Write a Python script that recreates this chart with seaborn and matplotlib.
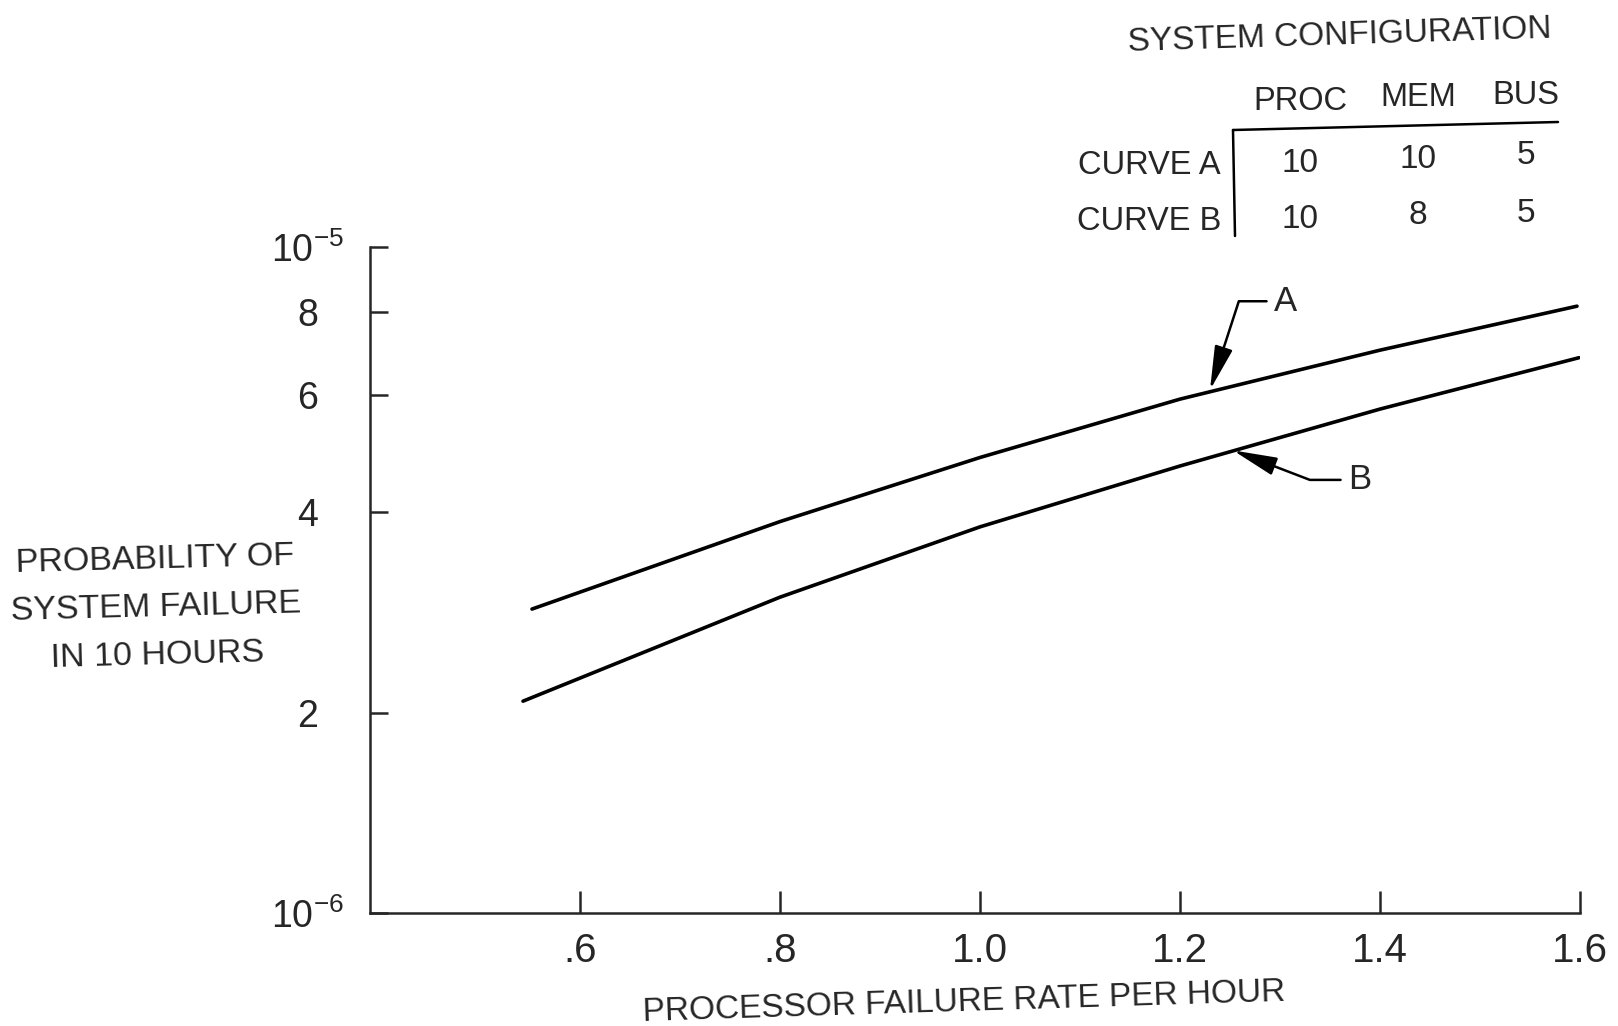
import numpy as np
import pandas as pd
import matplotlib
matplotlib.use("Agg")
import matplotlib.pyplot as plt
from matplotlib.lines import Line2D
import seaborn as sns

# values (log scale y)
rate_a = [0.552, 0.80, 1.00, 1.20, 1.40, 1.597]
prob_a = [2.86e-6, 3.87e-6, 4.83e-6, 5.91e-6, 7.00e-6, 8.15e-6]
rate_b = [0.543, 0.80, 1.00, 1.20, 1.40, 1.599]
prob_b = [2.08e-6, 2.98e-6, 3.80e-6, 4.69e-6, 5.71e-6, 6.82e-6]

xticks = [0.6, 0.8, 1.0, 1.2, 1.4, 1.6]
xtick_labels = [".6", ".8", "1.0", "1.2", "1.4", "1.6"]
yticks = [1e-6, 2e-6, 4e-6, 6e-6, 8e-6, 1e-5]
ytick_labels = [r"$\mathregular{10^{-6}}$", "2", "4", "6", "8", r"$\mathregular{10^{-5}}$"]

cfg_cols = ["PROC", "MEM", "BUS"]
cfg_rows = ["CURVE A", "CURVE B"]
cfg_a = [10, 10, 5]
cfg_b = [10, 8, 5]

sns.set_style("ticks")
plt.rcParams["font.family"] = ["Liberation Sans", "DejaVu Sans"]
NUM_FONT = ["Liberation Sans Narrow", "Liberation Sans", "DejaVu Sans"]

df = pd.DataFrame({
    "rate": rate_a + rate_b,
    "prob": prob_a + prob_b,
    "curve": ["A"] * len(rate_a) + ["B"] * len(rate_b),
})

W, H = 1618, 1026
fig = plt.figure(figsize=(W / 100, H / 100), dpi=100)


def fx(px):
    return px / W


def fy(py):
    return 1 - py / H


ax = fig.add_axes([fx(370), fy(913), fx(1580) - fx(370), fy(247) - fy(913)])
sns.lineplot(data=df, x="rate", y="prob", hue="curve", palette=["black", "black"],
             legend=False, lw=2.6, ax=ax)
ax.set_yscale("log")
ax.set_xlim(0.39, 1.6)
ax.set_ylim(1e-6, 1e-5)
ax.minorticks_off()
ax.set_xticks(xticks)
ax.set_xticklabels(xtick_labels, family=NUM_FONT, fontsize=29)
ax.set_yticks(yticks)
ax.set_yticklabels(ytick_labels, family=NUM_FONT, fontsize=27, ha="center")
ax.minorticks_off()
ax.tick_params(axis="x", direction="in", length=16, width=1.8, pad=14)
ax.tick_params(axis="y", direction="in", length=13, width=1.8, pad=45)
ax.set_xlabel("")
ax.set_ylabel("")
sns.despine(ax=ax)
for s in ["left", "bottom"]:
    ax.spines[s].set_linewidth(1.8)

arrow_kw = dict(color="black", lw=1.8, shrinkA=3, shrinkB=0, mutation_scale=20)
ax.annotate("A", xy=(1.23, 6.1e-6), xytext=(1.294, 8.29e-6), ha="left", va="center",
            fontsize=25,
            arrowprops=dict(arrowstyle="-|>,head_length=1.35,head_width=0.28",
                            connectionstyle="angle,angleA=180,angleB=72,rad=0", **arrow_kw))
ax.annotate("B", xy=(1.253, 4.95e-6), xytext=(1.368, 4.47e-6), ha="left", va="center",
            fontsize=25,
            arrowprops=dict(arrowstyle="-|>,head_length=1.35,head_width=0.28",
                            connectionstyle="angle,angleA=180,angleB=-21,rad=0", **arrow_kw))

# axis titles
fig.text(fx(964), fy(1002), "PROCESSOR FAILURE RATE PER HOUR", ha="center", va="center",
         fontsize=24, rotation=1.8, rotation_mode="anchor")
fig.text(fx(156), fy(608), "PROBABILITY OF\nSYSTEM FAILURE\nIN 10 HOURS", ha="center",
         va="center", multialignment="center", fontsize=24.5, linespacing=1.7,
         rotation=1.5, rotation_mode="anchor")

# configuration table
fig.text(fx(1340), fy(36), "SYSTEM CONFIGURATION", ha="center", va="center", fontsize=24,
         rotation=1.8, rotation_mode="anchor")
col_x = [1300, 1418, 1526]
col_y = [101, 98, 95]
for name, cx, cy in zip(cfg_cols, col_x, col_y):
    fig.text(fx(cx), fy(cy), name, ha="center", va="center", fontsize=23.5)
row_y = [[164, 159, 156], [219, 216, 213]]
for name, vals, ys, ry in zip(cfg_rows, [cfg_a, cfg_b], row_y, [166, 222]):
    fig.text(fx(1221), fy(ry), name, ha="right", va="center", fontsize=23.5)
    for v, cx, cy in zip(vals, col_x, ys):
        fig.text(fx(cx), fy(cy), str(v), ha="center", va="center", fontsize=24)
fig.add_artist(Line2D([fx(1233), fx(1558)], [fy(130), fy(122)], color="black", lw=1.8,
                      transform=fig.transFigure))
fig.add_artist(Line2D([fx(1233), fx(1235)], [fy(130), fy(236)], color="black", lw=1.8,
                      transform=fig.transFigure))

fig.savefig("out.png", dpi=100)
